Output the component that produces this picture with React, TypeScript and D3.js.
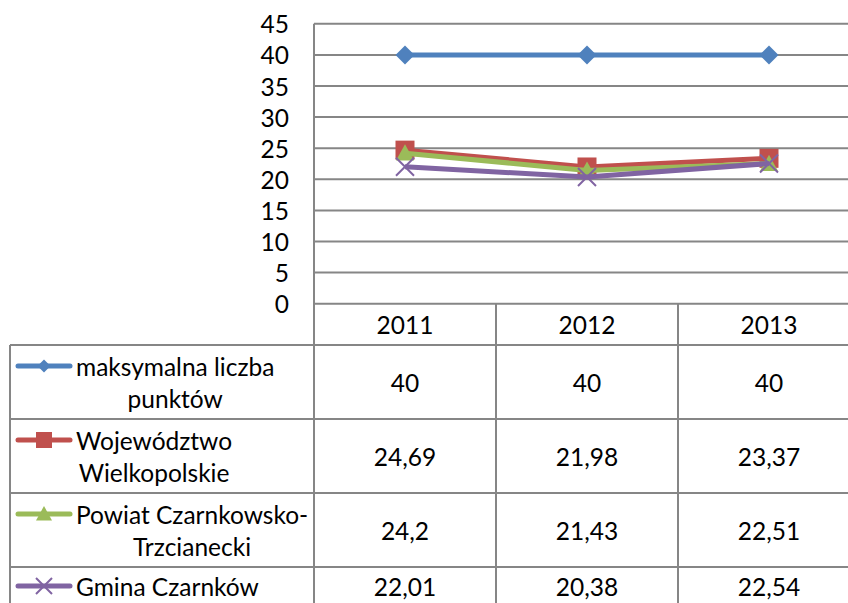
import React, { useEffect, useRef } from 'react';
import * as d3 from 'd3';

const categories = ['2011', '2012', '2013'];
const seriesNames = [
  ['maksymalna liczba', 'punktów'],
  ['Województwo', 'Wielkopolskie'],
  ['Powiat Czarnkowsko-', 'Trzcianecki'],
  ['Gmina Czarnków'],
];
const maxPoints = [40, 40, 40];
const wojewodztwo = [24.69, 21.98, 23.37];
const powiat = [24.2, 21.43, 22.51];
const gmina = [22.01, 20.38, 22.54];
const yTicks = [0, 5, 10, 15, 20, 25, 30, 35, 40, 45];

const colors = ['#4F81BD', '#C0504D', '#9BBB59', '#8064A2'];
const markers = ['diamond', 'square', 'triangle', 'x'];
const seriesValues = [maxPoints, wojewodztwo, powiat, gmina];

const W = 848;
const H = 603;
const FONT = 'Lato, "Open Sans", sans-serif';
const FS = 24.5;
const GRID = '#868686';

const fmt = (v: number) => String(v).replace('.', ',');

function drawMarker(g: any, type: string, cx: number, cy: number, size: number, color: string) {
  const s = size / 2;
  if (type === 'diamond') {
    g.append('path')
      .attr('d', `M${cx},${cy - s}L${cx + s},${cy}L${cx},${cy + s}L${cx - s},${cy}Z`)
      .attr('fill', color);
  } else if (type === 'square') {
    g.append('rect')
      .attr('x', cx - s).attr('y', cy - s)
      .attr('width', size).attr('height', size)
      .attr('fill', color);
  } else if (type === 'triangle') {
    g.append('path')
      .attr('d', `M${cx},${cy - s}L${cx + s},${cy + s * 0.8}L${cx - s},${cy + s * 0.8}Z`)
      .attr('fill', color);
  } else {
    g.append('path')
      .attr('d', `M${cx - s},${cy - s}L${cx + s},${cy + s}M${cx + s},${cy - s}L${cx - s},${cy + s}`)
      .attr('stroke', color)
      .attr('stroke-width', 2)
      .attr('fill', 'none');
  }
}

const App = () => {
  const ref = useRef<SVGSVGElement>(null);

  useEffect(() => {
    const svg = d3.select(ref.current);
    svg.selectAll('*').remove();

    const plotLeft = 314;
    const plotRight = 860;
    const x = d3.scaleBand().domain(categories).range([plotLeft, plotRight]);
    const y = d3.scaleLinear().domain([0, 45]).range([303.7, 23.8]);

    const tableLeft = 10;
    const headTop = y(0);
    const tableTop = 345;
    const rowH = 74;
    const rowTops = seriesNames.map((_, i) => tableTop + i * rowH);

    const g = svg.append('g');

    // gridlines
    g.selectAll('.grid')
      .data(yTicks)
      .enter().append('line')
      .attr('x1', plotLeft).attr('x2', W)
      .attr('y1', d => y(d)).attr('y2', d => y(d))
      .attr('stroke', GRID).attr('stroke-width', 2);

    // y labels
    g.selectAll('.ylab')
      .data(yTicks)
      .enter().append('text')
      .attr('x', 289).attr('y', d => y(d))
      .attr('text-anchor', 'end')
      .attr('dominant-baseline', 'central')
      .attr('font-family', FONT).attr('font-size', FS)
      .attr('fill', '#000')
      .text(d => d);

    // table borders
    const bottom = H + 10;
    g.append('line')
      .attr('x1', plotLeft).attr('x2', plotLeft)
      .attr('y1', y(45)).attr('y2', bottom)
      .attr('stroke', GRID).attr('stroke-width', 2);
    categories.slice(1).forEach(c => {
      g.append('line')
        .attr('x1', x(c)!).attr('x2', x(c)!)
        .attr('y1', headTop).attr('y2', bottom)
        .attr('stroke', GRID).attr('stroke-width', 2);
    });
    g.append('line')
      .attr('x1', tableLeft).attr('x2', tableLeft)
      .attr('y1', tableTop).attr('y2', bottom)
      .attr('stroke', GRID).attr('stroke-width', 2);
    rowTops.forEach(t => {
      g.append('line')
        .attr('x1', tableLeft).attr('x2', W)
        .attr('y1', t).attr('y2', t)
        .attr('stroke', GRID).attr('stroke-width', 2);
    });

    // category labels
    g.selectAll('.xlab')
      .data(categories)
      .enter().append('text')
      .attr('x', d => x(d)! + x.bandwidth() / 2)
      .attr('y', (headTop + tableTop) / 2)
      .attr('text-anchor', 'middle')
      .attr('dominant-baseline', 'central')
      .attr('font-family', FONT).attr('font-size', FS)
      .text(d => d);

    // series lines + markers
    const markerSizes = [19, 19, 18, 18];
    seriesValues.forEach((vals, i) => {
      const pts: [number, number][] = vals.map((v, j) => [x(categories[j])! + x.bandwidth() / 2, y(v)]);
      g.append('path')
        .attr('d', d3.line()(pts))
        .attr('fill', 'none')
        .attr('stroke', colors[i])
        .attr('stroke-width', 5)
        .attr('stroke-linejoin', 'round');
      pts.forEach(([px, py]) => drawMarker(g, markers[i], px, py, markerSizes[i], colors[i]));
    });

    // table rows
    const lineGap = 32;
    seriesNames.forEach((lines, i) => {
      const top = rowTops[i];
      const h = lines.length > 1 ? rowH : 38;
      const center = top + h / 2;
      const firstY = center - ((lines.length - 1) * lineGap) / 2;

      // legend key
      g.append('line')
        .attr('x1', 18).attr('x2', 70)
        .attr('y1', firstY).attr('y2', firstY)
        .attr('stroke', colors[i]).attr('stroke-width', 5)
        .attr('stroke-linecap', 'round');
      drawMarker(g, markers[i], 44, firstY, i === 0 ? 13 : 16, colors[i]);

      const texts = lines.map((l, k) =>
        g.append('text')
          .attr('y', firstY + k * lineGap)
          .attr('text-anchor', 'middle')
          .attr('dominant-baseline', 'central')
          .attr('font-family', FONT).attr('font-size', FS)
          .text(l)
      );
      const maxW = d3.max(texts, t => (t.node() as SVGTextElement).getComputedTextLength()) || 0;
      texts.forEach(t => t.attr('x', 76 + maxW / 2));

      seriesValues[i].forEach((v, j) => {
        g.append('text')
          .attr('x', x(categories[j])! + x.bandwidth() / 2)
          .attr('y', center)
          .attr('text-anchor', 'middle')
          .attr('dominant-baseline', 'central')
          .attr('font-family', FONT).attr('font-size', FS)
          .text(fmt(v));
      });
    });
  }, []);

  return <svg ref={ref} width={W} height={H} style={{ display: 'block', position: 'absolute', left: 0, top: 0, background: '#fff' }} />;
};

export default App;
